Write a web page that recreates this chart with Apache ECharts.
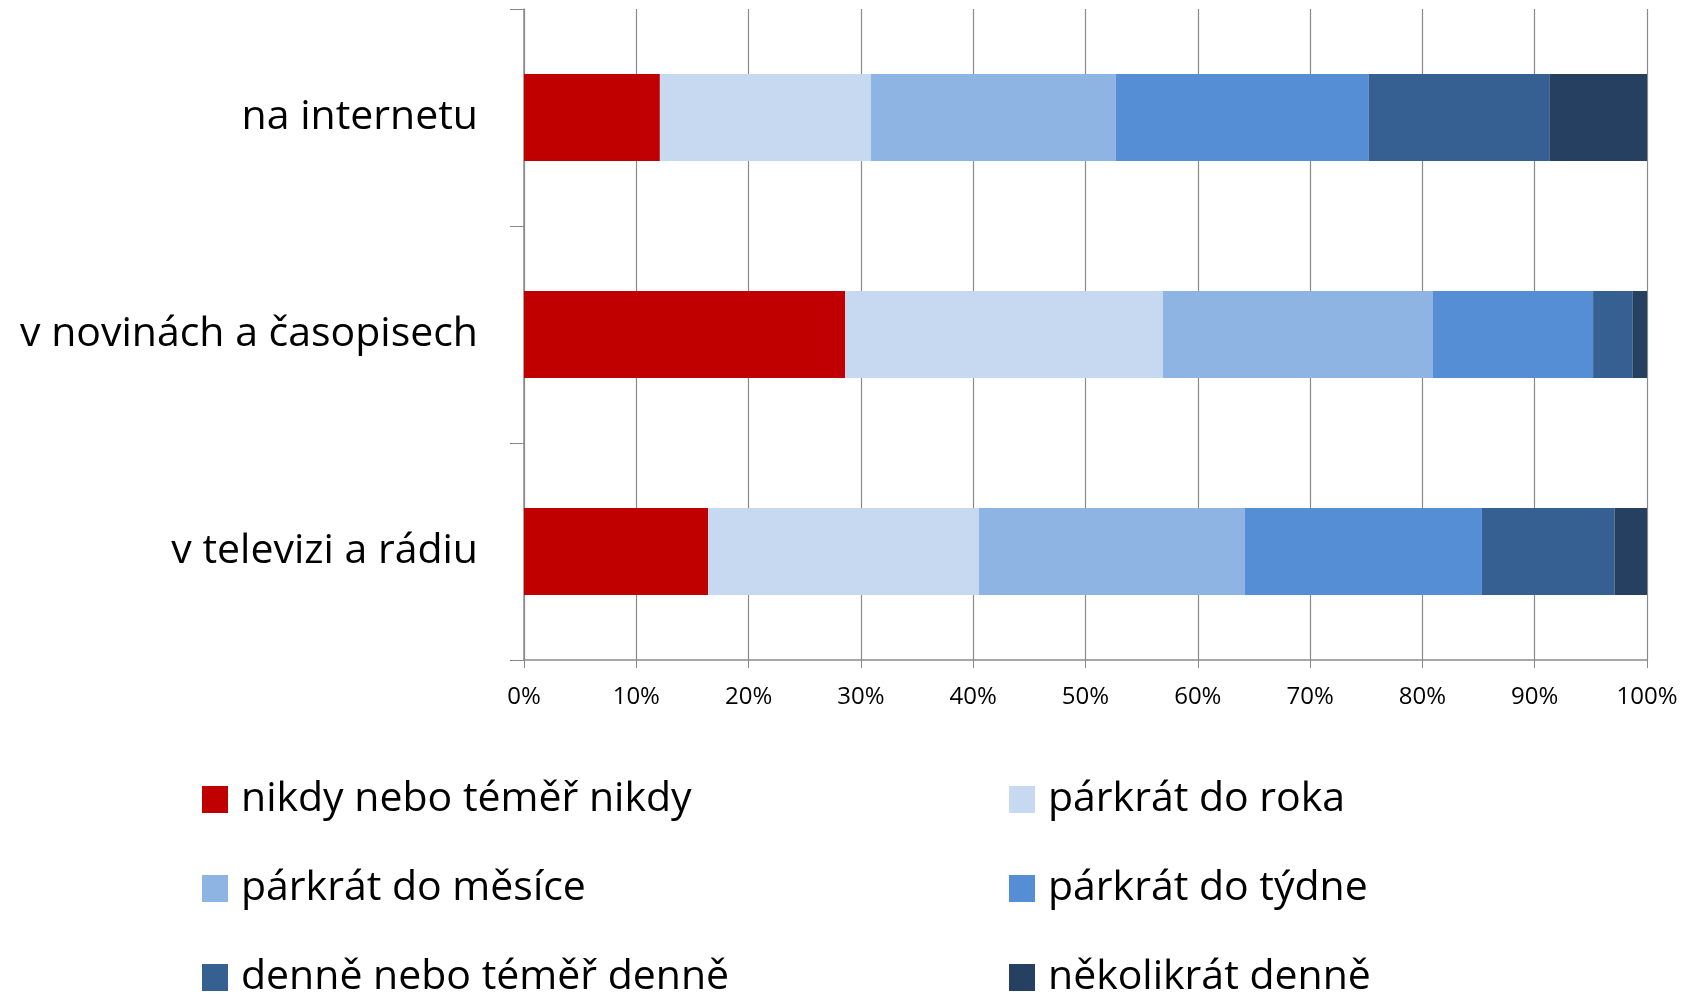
<!DOCTYPE html>
<html>
<head>
<meta charset="utf-8">
<script src="https://cdn.jsdelivr.net/npm/echarts@6/dist/echarts.min.js"></script>
<style>
  html, body { margin: 0; padding: 0; background: #ffffff; }
  #chart { width: 1692px; height: 995px; }
</style>
</head>
<body>
<div id="chart"></div>
<script>
// kategorie (shora dolů)
const categories = ['na internetu', 'v novinách a časopisech', 'v televizi a rádiu']
const seriesNames = ['nikdy nebo téměř nikdy', 'párkrát do roka', 'párkrát do měsíce',
  'párkrát do týdne', 'denně nebo téměř denně', 'několikrát denně']
// hodnoty v % pro každou kategorii
const nikdy = [12.1, 28.6, 16.4]
const rok = [18.8, 28.3, 24.1]
const mesic = [21.8, 24.0, 23.7]
const tyden = [22.5, 14.3, 21.1]
const denne = [16.1, 3.5, 11.8]
const nekolikrat = [8.7, 1.3, 2.9]
const xTicks = [0, 10, 20, 30, 40, 50, 60, 70, 80, 90, 100]

const colors = ['#C00000', '#C6D9F1', '#8EB4E3', '#558ED5', '#376092', '#254061']
const values = [nikdy, rok, mesic, tyden, denne, nekolikrat]
const font = "'Open Sans', sans-serif"
const gray = '#8a8a8a'

const chart = echarts.init(document.getElementById('chart'))

// legenda: dva sloupce, tři řádky - každá položka zvlášť
const legendLeft = [197, 1004]
const legendTop = [774, 863, 952]
const legends = seriesNames.map(function (name, i) {
  return {
    left: legendLeft[i % 2],
    top: legendTop[Math.floor(i / 2)],
    itemWidth: 26,
    itemHeight: 27,
    icon: 'rect',
    selectedMode: false,
    textStyle: {
      fontFamily: font,
      fontSize: 41,
      color: '#000',
      padding: [0, 0, 0, 8]
    },
    data: [name]
  }
})

const option = {
  animation: false,
  color: colors,
  grid: {
    left: 524,
    right: 45,
    top: 9,
    bottom: 335
  },
  legend: legends,
  xAxis: {
    type: 'value',
    min: xTicks[0],
    max: xTicks[xTicks.length - 1],
    interval: 10,
    axisLine: { show: true, lineStyle: { color: gray, width: 1.5 } },
    axisTick: { show: true, length: 8, lineStyle: { color: gray } },
    splitLine: { show: true, lineStyle: { color: gray, width: 1.2 } },
    axisLabel: {
      formatter: '{value}%',
      fontFamily: font,
      fontSize: 24,
      color: '#000',
      margin: 25
    }
  },
  yAxis: {
    type: 'category',
    inverse: true,
    data: categories,
    axisLine: { show: true, lineStyle: { color: gray, width: 1.5 } },
    axisTick: { show: true, length: 14, lineStyle: { color: gray } },
    axisLabel: {
      fontFamily: font,
      fontSize: 41,
      color: '#000',
      margin: 46
    }
  },
  series: values.map(function (v, i) {
    return {
      name: seriesNames[i],
      type: 'bar',
      stack: 'total',
      barWidth: '40%',
      itemStyle: { color: colors[i] },
      data: v
    }
  })
}

chart.setOption(option)
</script>
</body>
</html>
